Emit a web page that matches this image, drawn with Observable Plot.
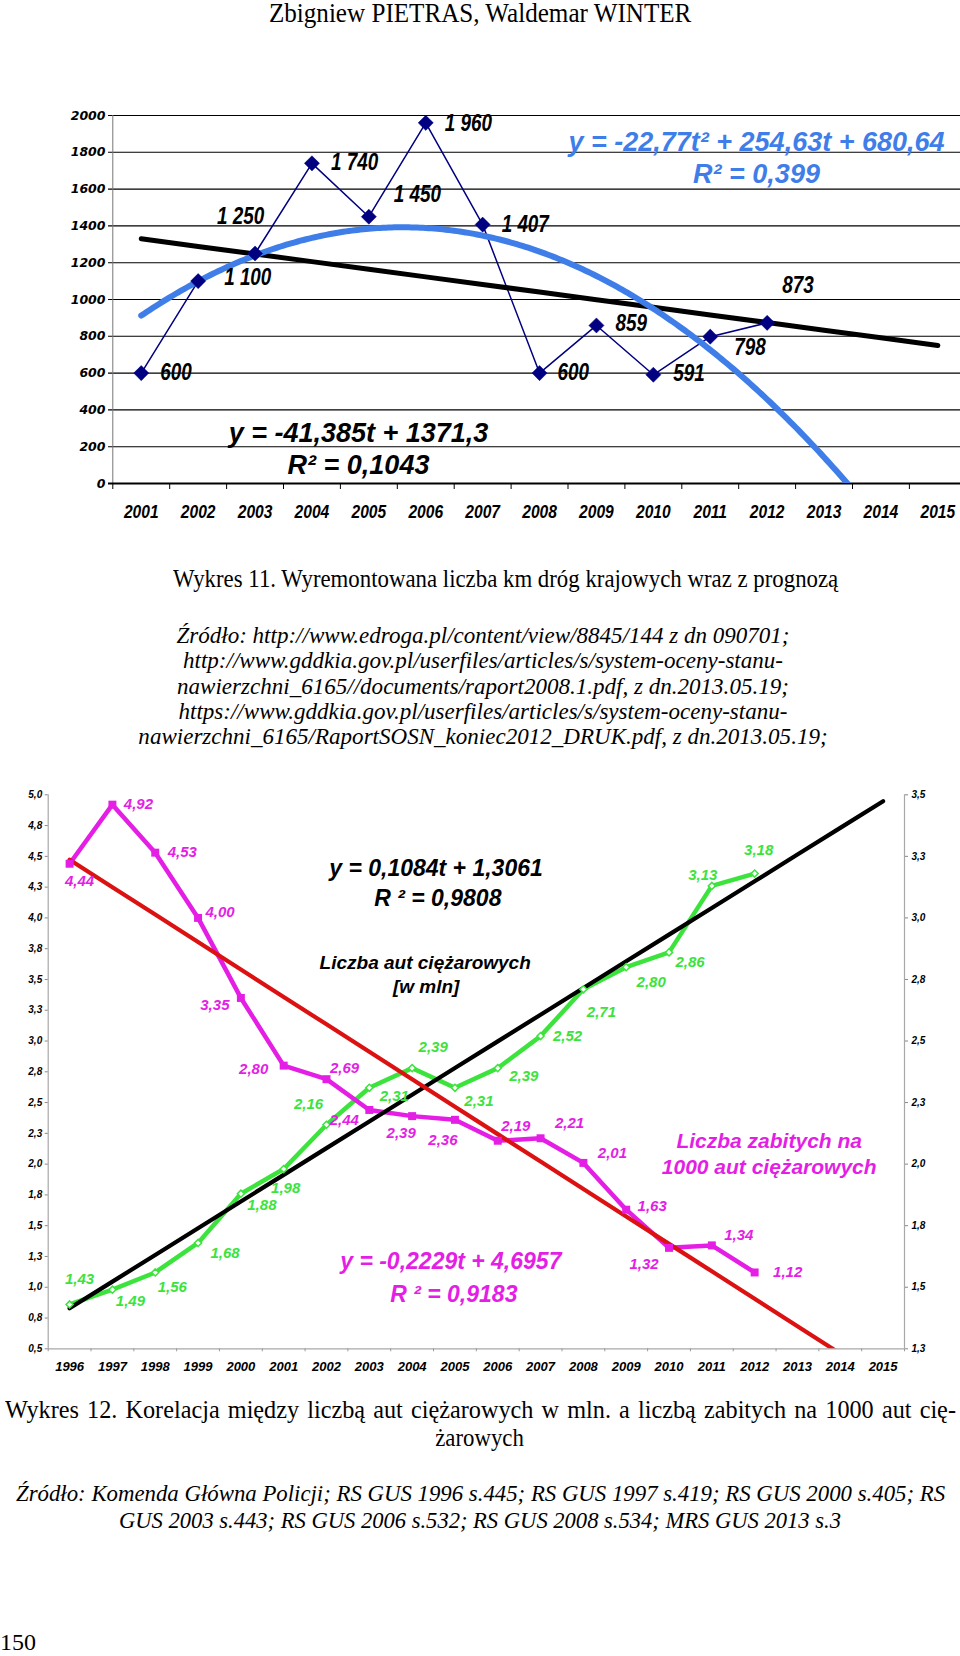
<!DOCTYPE html>
<html>
<head>
<meta charset="utf-8">
<script src="https://cdn.jsdelivr.net/npm/d3@7"></script>
<script src="https://cdn.jsdelivr.net/npm/@observablehq/plot@0.6"></script>
<style>
  html, body { margin: 0; padding: 0; background: #fff; }
  body { width: 960px; height: 1656px; position: relative; overflow: hidden; font-family: "Liberation Serif", "Times New Roman", serif; color: #000; }
  .t { position: absolute; left: 0; width: 960px; text-align: center; white-space: nowrap; }
  .sx { display: inline-block; transform: scaleX(var(--k)); transform-origin: center; text-align: center; }
  .hdr { top: -3px; font-size: 27px; line-height: 32px; }
  .cap { font-size: 25.5px; line-height: 28px; }
  .src { font-size: 24px; font-style: italic; }
  .just { position: absolute; text-align: justify; text-align-last: justify; white-space: nowrap; transform-origin: left center; }
  #chart1 { position: absolute; left: 0; top: 100px; }
  #chart2 { position: absolute; left: 0; top: 770px; }
  svg { overflow: visible; }
</style>
</head>
<body>
<div class="t hdr"><span class="sx" style="--k:0.93">Zbigniew PIETRAS, Waldemar WINTER</span></div>
<div id="chart1"></div>
<div class="t cap" style="top:565px; left:26px"><span class="sx" style="--k:0.895">Wykres 11. Wyremontowana liczba km dróg krajowych wraz z prognozą</span></div>
<div class="t src" style="top:623px; left:3px; line-height:25.3px"><span class="sx" style="--k:0.96">Źródło: http://www.edroga.pl/content/view/8845/144 z dn 090701;<br>http://www.gddkia.gov.pl/userfiles/articles/s/system-oceny-stanu-<br>nawierzchni_6165//documents/raport2008.1.pdf, z dn.2013.05.19;<br>https://www.gddkia.gov.pl/userfiles/articles/s/system-oceny-stanu-<br>nawierzchni_6165/RaportSOSN_koniec2012_DRUK.pdf, z dn.2013.05.19;</span></div>
<div id="chart2"></div>
<div class="just cap" style="top:1396px; left:5px; width:1001px; transform:scaleX(0.95)">Wykres 12. Korelacja między liczbą aut ciężarowych w mln. a liczbą zabitych na 1000 aut cię-</div>
<div class="t cap" style="top:1424px"><span class="sx" style="--k:0.895">żarowych</span></div>
<div class="just src" style="top:1480px; left:16px; width:970px; line-height:27px; transform:scaleX(0.95)">Źródło: Komenda Główna Policji; RS GUS 1996 s.445; RS GUS 1997 s.419; RS GUS 2000 s.405; RS</div>
<div class="t src" style="top:1507px; line-height:27px"><span class="sx" style="--k:0.94">GUS 2003 s.443; RS GUS 2006 s.532; RS GUS 2008 s.534; MRS GUS 2013 s.3</span></div>
<div style="position:absolute; left:0; top:1628px; font-size:24px; line-height:28px">150</div>

<script>
// ---------- DATA: chart 1 (km of repaired national roads) ----------
const topYears = [2001, 2002, 2003, 2004, 2005, 2006, 2007, 2008, 2009, 2010, 2011, 2012, 2013, 2014, 2015];
const topDataYears = [2001, 2002, 2003, 2004, 2005, 2006, 2007, 2008, 2009, 2010, 2011, 2012];
const topKm = [600, 1100, 1250, 1740, 1450, 1960, 1407, 600, 859, 591, 798, 873];
const topYTicks = [0, 200, 400, 600, 800, 1000, 1200, 1400, 1600, 1800, 2000];
const topLinearCoef = [-41.385, 1371.3];           // y = a t + b
const topQuadCoef = [-22.77, 254.63, 680.64];       // y = a t^2 + b t + c
const topLinearText = ["y = -41,385t + 1371,3", "R² = 0,1043"];
const topQuadText = ["y = -22,77t² + 254,63t + 680,64", "R² = 0,399"];

// ---------- DATA: chart 2 (trucks vs. deaths) ----------
const botYears = [1996, 1997, 1998, 1999, 2000, 2001, 2002, 2003, 2004, 2005, 2006, 2007, 2008, 2009, 2010, 2011, 2012, 2013, 2014, 2015];
const botDataYears = [1996, 1997, 1998, 1999, 2000, 2001, 2002, 2003, 2004, 2005, 2006, 2007, 2008, 2009, 2010, 2011, 2012];
const deathsPer1000 = [4.44, 4.92, 4.53, 4.00, 3.35, 2.80, 2.69, 2.44, 2.39, 2.36, 2.19, 2.21, 2.01, 1.63, 1.32, 1.34, 1.12];
const trucksMln = [1.43, 1.49, 1.56, 1.68, 1.88, 1.98, 2.16, 2.31, 2.39, 2.31, 2.39, 2.52, 2.71, 2.80, 2.86, 3.13, 3.18];
const leftTicks = [0.5, 0.75, 1, 1.25, 1.5, 1.75, 2, 2.25, 2.5, 2.75, 3, 3.25, 3.5, 3.75, 4, 4.25, 4.5, 4.75, 5];
const rightTicks = [1.25, 1.5, 1.75, 2, 2.25, 2.5, 2.75, 3, 3.25, 3.5];
const trucksTrendCoef = [0.1084, 1.3061];
const deathsTrendCoef = [-0.2229, 4.6957];
const trucksEqText = ["y = 0,1084t + 1,3061", "R ² = 0,9808"];
const deathsEqText = ["y = -0,2229t + 4,6957", "R ² = 0,9183"];
const trucksTitle = ["Liczba aut ciężarowych", "[w mln]"];
const deathsTitle = ["Liczba zabitych na", "1000 aut ciężarowych"];

// ---------- layout constants (label offsets in px) ----------
const topLabelOffsets = [[19,0],[26,-3],[-38,-37],[19,-1],[25,-22],[19,1],[19,0],[18,0],[19,-2],[20,-1],[24,11],[15,-37]];
const deathLabelOffsets = [[10,17],[26,0],[27,0],[22,-6],[-26,7],[-30,4],[18,-11],[-25,10],[-11,17],[-12,20],[18,-15],[29,-15],[29,-10],[26,-3],[-25,16],[27,-10],[33,0]];
const truckLabelOffsets = [[10,-25],[18,11],[17,15],[27,10],[21,12],[2,19],[-18,-21],[25,8],[21,-21],[24,13],[26,8],[27,0],[18,23],[25,15],[21,10],[-9,-11],[4,-23]];

const NARROW = '"Liberation Sans Narrow", "Arial Narrow", "Liberation Sans", Arial, sans-serif';
const NARROW2 = '"Liberation Sans Narrow", "Arial Narrow", "Liberation Sans", sans-serif';
const ARIAL = '"Liberation Sans", Arial, sans-serif';
const NAVY = "#000080", BLUE = "#3f7ee8", GREEN = "#3ce33c", MAGENTA = "#e41ee4", RED = "#dc1212";

// ================= CHART 1 =================
{
  const xd = [topYears[0] - 0.5, topYears[topYears.length - 1] + 0.5];
  const bounds = d3.range(topYears.length + 1).map(i => xd[0] + i);
  const pts = topDataYears.map((yr, i) => ({yr, v: topKm[i]}));
  const lin = topYears.map((yr, i) => ({yr, v: topLinearCoef[0] * (i + 1) + topLinearCoef[1]}));
  const quad = d3.range(1, topYears.length + 0.001, 0.05).map(t => ({yr: topYears[0] + t - 1, v: topQuadCoef[0] * t * t + topQuadCoef[1] * t + topQuadCoef[2]}));
  const fmtKm = v => d3.format(",")(v).replace(/,/g, " ");
  const eq = (txt, dx, dy, fill) => Plot.text([txt], {text: d => d, frameAnchor: "top-left", lineAnchor: "middle", dx, dy, fill, fontSize: 27, fontWeight: "bold", fontStyle: "italic", fontFamily: ARIAL, textAnchor: "middle"});

  const chart = Plot.plot({
    width: 960, height: 430,
    marginLeft: 108, marginRight: 0, marginTop: 15, marginBottom: 47,
    x: {type: "linear", domain: xd, range: [112.3, 965.8], label: null},
    y: {domain: [0, 2000], label: null},
    style: {background: "transparent", overflow: "visible"},
    marks: [
      Plot.gridY(topYTicks, {stroke: "#000", strokeOpacity: 1, strokeWidth: 1.1}),
      Plot.ruleX([xd[0]], {stroke: "#777", strokeWidth: 1}),
      Plot.ruleY([0], {stroke: "#000", strokeWidth: 2}),
      Plot.axisY({ticks: topYTicks, tickSize: 0, tickPadding: 3, tickFormat: d => String(d), fontSize: 12.5, fontWeight: "bold", fontStyle: "italic", fontFamily: '"DejaVu Sans", sans-serif', label: null}),
      Plot.axisX({ticks: bounds, tickSize: 6, tickFormat: () => "", stroke: "#000", label: null}),
      Plot.axisX({ticks: topYears, tickSize: 0, tickPadding: 21, tickFormat: d => String(d), fontSize: 19, fontWeight: "bold", fontStyle: "italic", fontFamily: NARROW2, label: null}),
      Plot.line(pts, {x: "yr", y: "v", stroke: NAVY, strokeWidth: 1.5}),
      Plot.line(lin, {x: "yr", y: "v", stroke: "#000", strokeWidth: 5}),
      Plot.line(quad, {x: "yr", y: "v", stroke: BLUE, strokeWidth: 6, clip: true}),
      Plot.dot(pts, {x: "yr", y: "v", symbol: "diamond2", r: 6.8, fill: NAVY, stroke: NAVY, strokeWidth: 0.5}),
      pts.map((p, i) => Plot.text([p], {x: "yr", y: "v", text: d => fmtKm(d.v), dx: topLabelOffsets[i][0], dy: topLabelOffsets[i][1], textAnchor: "start", fontSize: 23, fontWeight: "bold", fontStyle: "italic", fontFamily: NARROW, fill: "#000"})),
      eq(topQuadText[0], 648, 27, BLUE),
      eq(topQuadText[1], 648, 59, BLUE),
      eq(topLinearText[0], 250, 318, "#000"),
      eq(topLinearText[1], 250, 350, "#000")
    ]
  });
  document.getElementById("chart1").append(chart);
  // condense the narrow-font texts (no narrow font installed)
  const condense = (family, k) => chart.querySelectorAll("g[font-family]").forEach(g => {
    if (g.getAttribute("font-family") !== family) return;
    g.querySelectorAll("text").forEach(t => {
      const w = t.getComputedTextLength();
      if (w > 0) { t.setAttribute("textLength", (w * k).toFixed(1)); t.setAttribute("lengthAdjust", "spacingAndGlyphs"); }
    });
  });
  condense(NARROW, 0.82);
  condense(NARROW2, 0.82);
}

// ================= CHART 2 =================
{
  const yd = [leftTicks[0], leftTicks[leftTicks.length - 1]];
  const rd = [rightTicks[0], rightTicks[rightTicks.length - 1]];
  const toLeft = v => yd[0] + (v - rd[0]) * (yd[1] - yd[0]) / (rd[1] - rd[0]);
  const fromLeft = v => rd[0] + (v - yd[0]) * (rd[1] - rd[0]) / (yd[1] - yd[0]);
  const fmt = v => (Math.round(v * 100) / 100).toFixed(1).replace(".", ",");
  const fmt2 = v => v.toFixed(2).replace(".", ",");
  const xd = [botYears[0] - 0.5, botYears[botYears.length - 1] + 0.5];
  const bounds = d3.range(botYears.length + 1).map(i => xd[0] + i);

  const deaths = botDataYears.map((yr, i) => ({yr, v: deathsPer1000[i], y: deathsPer1000[i]}));
  const trucks = botDataYears.map((yr, i) => ({yr, v: trucksMln[i], y: toLeft(trucksMln[i])}));
  const trucksTrend = botYears.map((yr, i) => ({yr, y: toLeft(trucksTrendCoef[0] * (i + 1) + trucksTrendCoef[1])}));
  const deathsTrend = botYears.map((yr, i) => ({yr, y: deathsTrendCoef[0] * (i + 1) + deathsTrendCoef[1]}));

  const txt = (s, dx, dy, fill, size, anchor) => Plot.text([s], {text: d => d, frameAnchor: "top-left", lineAnchor: "middle", dx, dy, fill, fontSize: size, fontWeight: "bold", fontStyle: "italic", fontFamily: ARIAL, textAnchor: anchor});
  const lab = (arr, offs, fill) => arr.map((p, i) => Plot.text([p], {x: "yr", y: "y", text: d => fmt2(d.v), dx: offs[i][0], dy: offs[i][1], fill, fontSize: 15, fontWeight: "bold", fontStyle: "italic", fontFamily: ARIAL, textAnchor: "middle"}));
  const axisFont = {fontSize: 10, fontWeight: "bold", fontStyle: "italic", fontFamily: ARIAL, label: null};

  const chart = Plot.plot({
    width: 960, height: 620,
    marginLeft: 47.7, marginRight: 56, marginTop: 24.3, marginBottom: 41.7,
    x: {type: "linear", domain: xd, label: null},
    y: {domain: yd, label: null},
    style: {background: "transparent", overflow: "visible"},
    marks: [
      Plot.ruleX([xd[0], xd[1]], {stroke: "#a8a8a8", strokeWidth: 1.2}),
      Plot.ruleY([yd[0]], {stroke: "#a8a8a8", strokeWidth: 1.2}),
      Plot.axisY({ticks: leftTicks, tickSize: 3, tickPadding: 3, tickFormat: fmt, stroke: "#888", ...axisFont}),
      Plot.axisY({anchor: "right", ticks: rightTicks.map(toLeft), tickSize: 3, tickPadding: 4, tickFormat: d => fmt(fromLeft(d)), stroke: "#888", ...axisFont}),
      Plot.axisX({ticks: bounds, tickSize: 3, tickFormat: () => "", stroke: "#999", label: null}),
      Plot.axisX({ticks: botYears, tickSize: 0, tickPadding: 13, tickFormat: d => String(d), fontSize: 13, fontWeight: "bold", fontStyle: "italic", fontFamily: ARIAL, label: null}),
      Plot.line(trucks, {x: "yr", y: "y", stroke: GREEN, strokeWidth: 4.5}),
      Plot.line(deaths, {x: "yr", y: "y", stroke: MAGENTA, strokeWidth: 4.5}),
      Plot.line(trucksTrend, {x: "yr", y: "y", stroke: "#000", strokeWidth: 4.2}),
      Plot.line(deathsTrend, {x: "yr", y: "y", stroke: RED, strokeWidth: 4.2, clip: true}),
      Plot.dot(trucks, {x: "yr", y: "y", symbol: "diamond2", r: 3.2, fill: "#fff", stroke: GREEN, strokeWidth: 1.5}),
      Plot.dot(deaths, {x: "yr", y: "y", symbol: "square", r: 4.5, fill: MAGENTA}),
      lab(deaths, deathLabelOffsets, MAGENTA),
      lab(trucks, truckLabelOffsets, GREEN),
      txt(trucksEqText[0], 281, 74, "#000", 23, "start"),
      txt(trucksEqText[1], 326, 104, "#000", 23, "start"),
      txt(trucksTitle[0], 377, 168, "#000", 19, "middle"),
      txt(trucksTitle[1], 378, 192, "#000", 19, "middle"),
      txt(deathsTitle[0], 721, 346, MAGENTA, 21, "middle"),
      txt(deathsTitle[1], 721, 372, MAGENTA, 21, "middle"),
      txt(deathsEqText[0], 292, 467, MAGENTA, 23, "start"),
      txt(deathsEqText[1], 342, 500, MAGENTA, 23, "start")
    ]
  });
  document.getElementById("chart2").append(chart);
}
</script>
</body>
</html>
